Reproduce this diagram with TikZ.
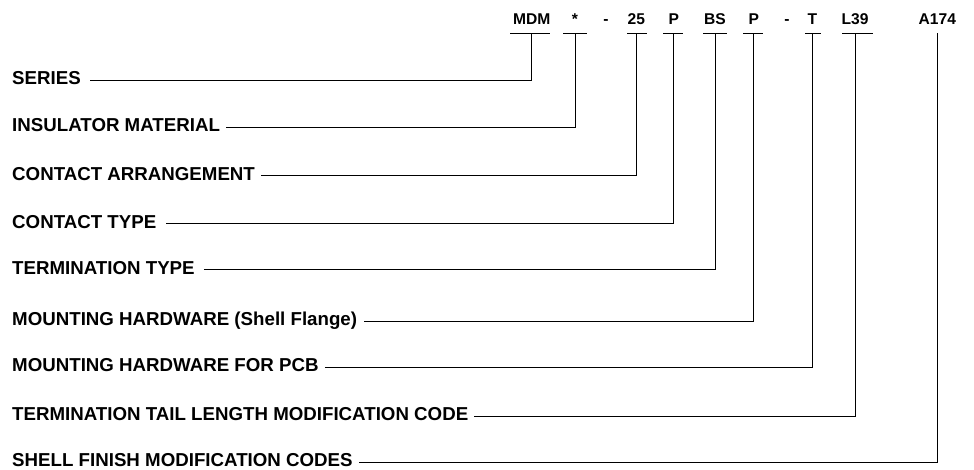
\documentclass[tikz,border=0pt]{standalone}
\usepackage{fontspec}
\setmainfont{Liberation Sans}
\begin{document}
\begin{tikzpicture}[x=1pt,y=-1pt,
  codetxt/.style={anchor=base,inner sep=0pt,font=\fontsize{15.6}{16}\selectfont\bfseries},
  labtxt/.style={anchor=west,inner sep=0pt,text height=13.5pt,text depth=4.3pt,font=\fontsize{18.7}{20}\selectfont\bfseries},
  wire/.style={draw=black,line width=1pt}]
\useasboundingbox (0,0) rectangle (974,469);
% codes
\node[codetxt] (k1) at (531.7,24) {MDM};
\node[codetxt] (k2) at (575,24) {*};
\node[codetxt] (d1) at (606,24) {-};
\node[codetxt] (k3) at (636.3,24) {25};
\node[codetxt] (k4) at (673.7,24) {P};
\node[codetxt] (k5) at (715,24) {BS};
\node[codetxt] (k6) at (753.7,24) {P};
\node[codetxt] (d2) at (787,24) {-};
\node[codetxt] (k7) at (812.3,24) {T};
\node[codetxt] (k8) at (855,24) {L39};
\node[codetxt] (k9) at (937.3,24) {A174};
% underline anchor points
\coordinate (c1) at (531.7,33.3);
\coordinate (c2) at (575,33.3);
\coordinate (c3) at (636.3,33.3);
\coordinate (c4) at (673.7,33.3);
\coordinate (c5) at (715,33.3);
\coordinate (c6) at (753.7,33.3);
\coordinate (c7) at (812.3,33.3);
\coordinate (c8) at (855,33.3);
\coordinate (c9) at (937.3,33.3);
% underlines
\draw[wire] (510,33.3) -- (550,33.3);
\draw[wire] (563,33.3) -- (587,33.3);
\draw[wire] (627,33.3) -- (647,33.3);
\draw[wire] (663,33.3) -- (683,33.3);
\draw[wire] (703,33.3) -- (727,33.3);
\draw[wire] (743,33.3) -- (763,33.3);
\draw[wire] (805,33.3) -- (820.5,33.3);
\draw[wire] (842,33.3) -- (873,33.3);
% labels
\node[labtxt] (l1) at (12,80) {SERIES};
\node[labtxt] (l2) at (12,127) {INSULATOR MATERIAL};
\node[labtxt] (l3) at (12,175.7) {CONTACT ARRANGEMENT};
\node[labtxt] (l4) at (12,223.7) {CONTACT TYPE};
\node[labtxt] (l5) at (12,269.7) {TERMINATION TYPE};
\node[labtxt] (l6) at (12,321) {MOUNTING HARDWARE (Shell Flange)};
\node[labtxt] (l7) at (12,367) {MOUNTING HARDWARE FOR PCB};
\node[labtxt] (l8) at (12,416.3) {TERMINATION TAIL LENGTH MODIFICATION CODE};
\node[labtxt] (l9) at (12,462.3) {SHELL FINISH MODIFICATION CODES};
% leaders
\draw[wire] ([xshift=9.5pt]l1.east) -| (c1);
\draw[wire] ([xshift=6pt]l2.east) -| (c2);
\draw[wire] ([xshift=6pt]l3.east) -| (c3);
\draw[wire] ([xshift=10pt]l4.east) -| (c4);
\draw[wire] ([xshift=9pt]l5.east) -| (c5);
\draw[wire] ([xshift=7pt]l6.east) -| (c6);
\draw[wire] ([xshift=6pt]l7.east) -| (c7);
\draw[wire] ([xshift=6pt]l8.east) -| (c8);
\draw[wire] ([xshift=6.5pt]l9.east) -| (c9);
\end{tikzpicture}
\end{document}
